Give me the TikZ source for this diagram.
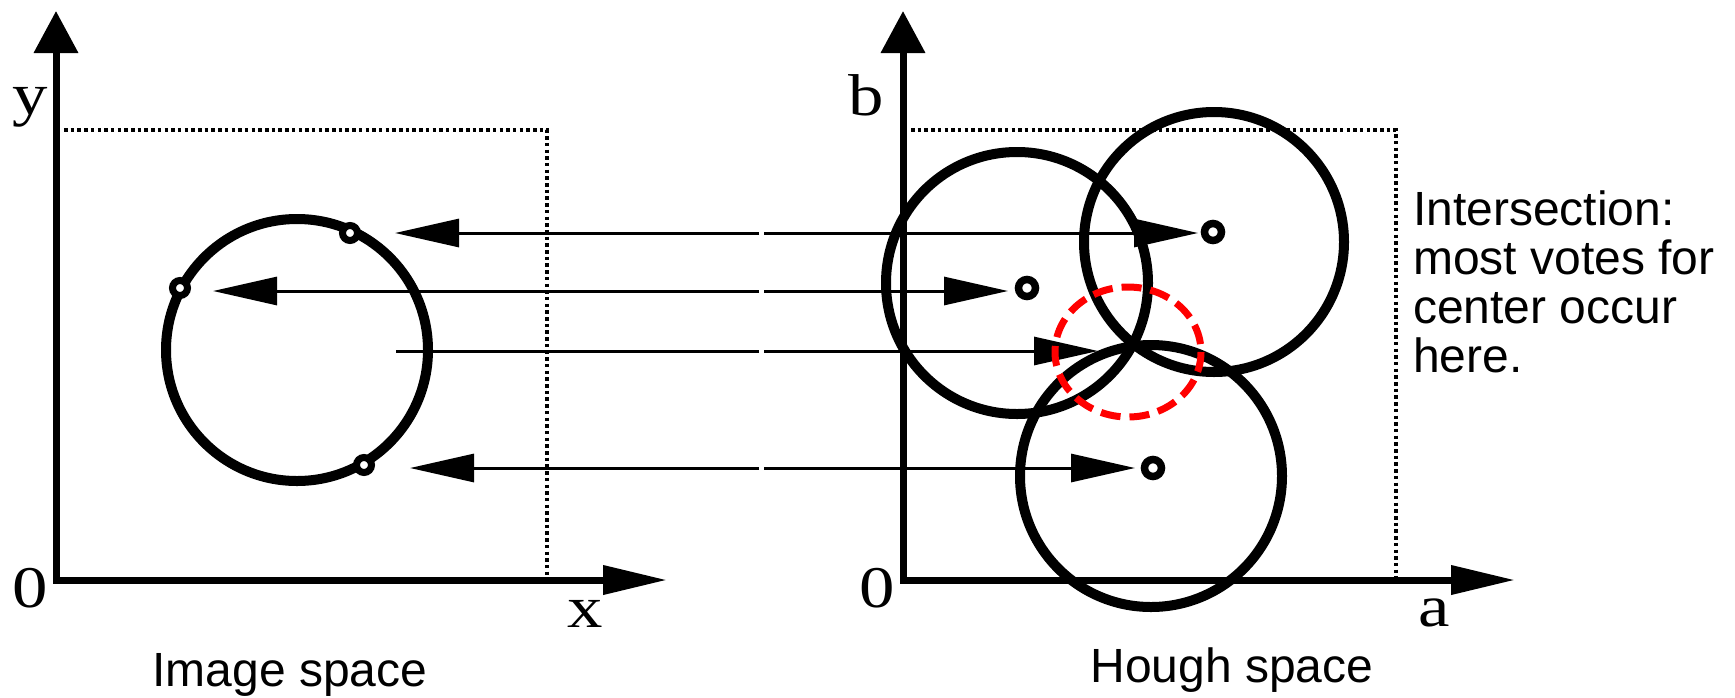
\documentclass[tikz,border=0pt]{standalone}
\usepackage{fontspec}
\usepackage{graphicx}
\setmainfont{Liberation Serif}
\setsansfont{Liberation Sans}
\usetikzlibrary{arrows.meta}
\newcommand{\widelab}[1]{\scalebox{1.2}[1]{#1}}
\begin{document}
\begin{tikzpicture}[x=1pt,y=-1pt,
  axis/.style={line width=7pt, line join=miter},
  dotline/.style={line width=3.5pt, dash pattern=on 3.5pt off 3.2pt},
  bigcirc/.style={line width=10pt},
  ring/.style={circle, draw, fill=white, line width=7pt, minimum size=15pt, inner sep=0pt},
  hring/.style={ring, line width=7.5pt, minimum size=17pt},
  vote/.style={line width=3pt},
  votearrow/.style={vote, -{Triangle[length=64pt,width=28pt]}},
  hitcircle/.style={draw=red, line width=7pt, dash pattern=on 20pt off 9pt},
  sanslab/.style={font=\sffamily\fontsize{48}{48.7}\selectfont, inner sep=0pt},
  serlab/.style={font=\rmfamily\fontsize{59}{59}\selectfont, inner sep=0pt}]
\useasboundingbox (0,0) rectangle (1735,697);

% ---------- Image space ----------
\coordinate (O1) at (56,580);
\coordinate (Y1) at (56,11);
\coordinate (X1) at (667,580);
\draw[dotline] (64,130) -- (547,130) -- (547,580);
\draw[axis, {Triangle[length=42pt,width=43pt]}-{Triangle[length=64pt,width=28pt]}] (Y1) -- (O1) -- (X1);
\node[serlab] (ylab) at (30,107) {\widelab{y}};
\node[serlab] (o1lab) at (30,588) {\widelab{0}};
\node[serlab] (xlab) at (585,614) {\widelab{x}};
\node[sanslab, anchor=base] (imgsp) at (290,686) {Image space};

\draw[bigcirc] (297,350) circle[radius=131];
\node[ring] (p1) at (350,233) {};
\node[ring] (p2) at (180,288) {};
\node[ring] (p3) at (364,465) {};

% ---------- Hough space ----------
\coordinate (O2) at (903,580);
\coordinate (Y2) at (903,11);
\coordinate (X2) at (1515,580);
\draw[dotline] (911,130) -- (1396,130) -- (1396,580);
\draw[axis, {Triangle[length=42pt,width=43pt]}-{Triangle[length=64pt,width=28pt]}] (Y2) -- (O2) -- (X2);
\node[serlab] (blab) at (866,95) {\widelab{b}};
\node[serlab] (o2lab) at (877,588) {\widelab{0}};
\node[serlab] (alab) at (1434,613) {\widelab{a}};
\node[sanslab, anchor=base] (hsp) at (1232,682) {Hough space};

% vote lines (left part and right part, split by a small gap)
\coordinate (l1) at (759,233); \coordinate (r1) at (764,233);
\coordinate (l2) at (759,291); \coordinate (r2) at (764,291);
\coordinate (l3) at (759,351); \coordinate (r3) at (764,351);
\coordinate (l4) at (759,468); \coordinate (r4) at (764,468);
\coordinate (e1) at (395,233); \coordinate (h1) at (1198,233);
\coordinate (e2) at (213,291); \coordinate (h2) at (1008,291);
\coordinate (e3) at (396,351); \coordinate (h3) at (1098,351);
\coordinate (e4) at (410,468); \coordinate (h4) at (1135,468);
\draw[votearrow] (l1) -- (e1);
\draw[votearrow] (l2) -- (e2);
\draw[vote] (l3) -- (e3);
\draw[votearrow] (l4) -- (e4);
\draw[votearrow] (r1) -- (h1);
\draw[votearrow] (r2) -- (h2);
\draw[votearrow] (r3) -- (h3);
\draw[votearrow] (r4) -- (h4);

\draw[bigcirc] (1017,283) circle[radius=131];
\draw[bigcirc] (1214,242) circle[radius=130];
\draw[bigcirc] (1151,476) circle[radius=131];
\node[hring] (c1) at (1213,232) {};
\node[hring] (c2) at (1027,288) {};
\node[hring] (c3) at (1153,468) {};

\draw[hitcircle] (1128,352) ellipse[x radius=73, y radius=65];

\node[sanslab, anchor=base west, align=left] (note) at (1413,372)
  {Intersection:\\most votes for\\center occur\\here.};
\end{tikzpicture}
\end{document}
